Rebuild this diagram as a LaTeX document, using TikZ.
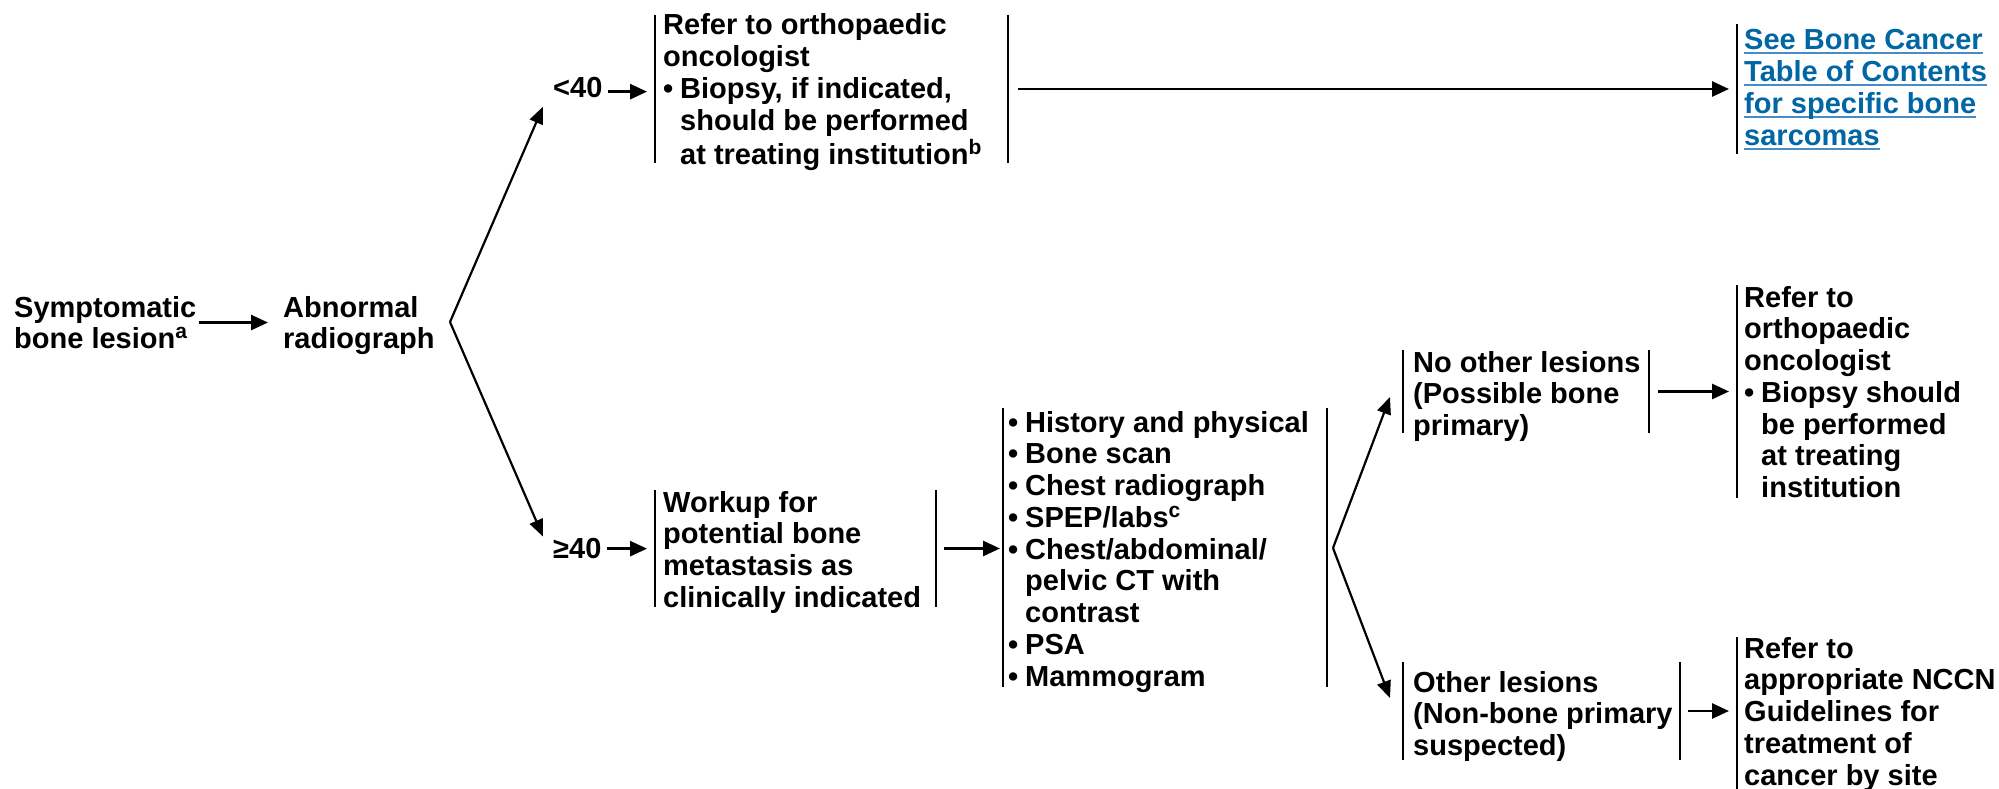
\documentclass[tikz,border=0pt]{standalone}
\usepackage{fontspec}
\setmainfont{Liberation Sans}
\usetikzlibrary{arrows.meta}
\definecolor{linkblue}{RGB}{0,103,164}
\definecolor{ulblue}{RGB}{70,140,200}
\newcommand\myul[1]{\setbox0\hbox{#1}\rlap{\color{ulblue}\rule[-4.5pt]{\wd0}{2pt}}\box0}
\newcommand\bul{\makebox[17pt][l]{•}}
\newcommand\ind{\hspace*{17pt}}
\newcommand\sups[1]{\raisebox{10pt}{\fontsize{21}{21}\selectfont #1}}
\begin{document}
\begin{tikzpicture}[x=1pt,y=-1pt,
  txt/.style={anchor=base west, inner sep=0pt, font=\fontsize{29}{31.75}\selectfont\bfseries},
  linktxt/.style={anchor=base west, inner sep=0pt, text=linkblue, font=\fontsize{29}{32}\selectfont\bfseries},
  frame/.style={draw=none, inner sep=0pt, outer sep=0pt, anchor=north west},
  bar/.style={line width=2.4pt},
  arr/.style={line width=2.8pt, -{Triangle[length=17pt,width=15pt]}},
  diag/.style={line width=2.2pt, -{Triangle[length=17pt,width=14pt]}}]
\fill[white] (0,0) rectangle (1999,789);
\useasboundingbox (0,0) rectangle (1999,789);

% frames (bars)
\node[frame, minimum width=353pt, minimum height=148pt] (topbox) at (655,15) {};
\node[frame, minimum width=262pt, minimum height=130pt] (linkbox) at (1737,24) {};
\node[frame, minimum width=281pt, minimum height=117pt] (workbox) at (655,490) {};
\node[frame, minimum width=324pt, minimum height=279pt] (listbox) at (1003,408) {};
\node[frame, minimum width=246pt, minimum height=83pt] (nobox) at (1403,350) {};
\node[frame, minimum width=262pt, minimum height=213pt] (ref1box) at (1737,285) {};
\node[frame, minimum width=277pt, minimum height=98pt] (othbox) at (1403,662) {};
\node[frame, minimum width=262pt, minimum height=152pt] (ref2box) at (1737,637) {};

\foreach \b in {topbox,workbox,listbox,nobox,othbox}{
  \draw[bar] (\b.north west) -- (\b.south west);
  \draw[bar] (\b.north east) -- (\b.south east);
}
\foreach \b in {linkbox,ref1box,ref2box}{
  \draw[bar] (\b.north west) -- (\b.south west);
}

% texts
\node[txt] (sym) at (14,317) {\begin{tabular}[t]{@{}l@{}}Symptomatic\\bone lesion\sups{a}\end{tabular}};
\node[txt] (abn) at (283,317) {\begin{tabular}[t]{@{}l@{}}Abnormal\\radiograph\end{tabular}};
\node[txt] (lt) at (553,98) {\begin{tabular}[t]{@{}l@{}}<40\end{tabular}};
\node[txt] (ge) at (553,558) {\begin{tabular}[t]{@{}l@{}}≥40\end{tabular}};
\node[txt] (toptext) at (663,35) {\begin{tabular}[t]{@{}l@{}}Refer to orthopaedic\\oncologist\\\bul Biopsy, if indicated,\\\ind should be performed\\\ind at treating institution\sups{b}\end{tabular}};
\node[linktxt] (linktext) at (1744,50) {\begin{tabular}[t]{@{}l@{}}\myul{See Bone Cancer}\\\myul{Table of Contents}\\\myul{for specific bone}\\\myul{sarcomas}\end{tabular}};
\node[txt] (worktext) at (663,512) {\begin{tabular}[t]{@{}l@{}}Workup for\\potential bone\\metastasis as\\clinically indicated\end{tabular}};
\node[txt] (listtext) at (1008,432) {\begin{tabular}[t]{@{}l@{}}\bul History and physical\\\bul Bone scan\\\bul Chest radiograph\\\bul SPEP/labs\sups{c}\\\bul Chest/abdominal/\\\ind pelvic CT with\\\ind contrast\\\bul PSA\\\bul Mammogram\end{tabular}};
\node[txt] (notext) at (1413,372) {\begin{tabular}[t]{@{}l@{}}No other lesions\\(Possible bone\\primary)\end{tabular}};
\node[txt] (ref1text) at (1744,307) {\begin{tabular}[t]{@{}l@{}}Refer to\\orthopaedic\\oncologist\\\bul Biopsy should\\\ind be performed\\\ind at treating\\\ind institution\end{tabular}};
\node[txt] (othtext) at (1413,692) {\begin{tabular}[t]{@{}l@{}}Other lesions\\(Non-bone primary\\suspected)\end{tabular}};
\node[txt] (ref2text) at (1744,658) {\begin{tabular}[t]{@{}l@{}}Refer to\\appropriate NCCN\\Guidelines for\\treatment of\\cancer by site\end{tabular}};

% forks
\coordinate (fork1) at (450,322);
\coordinate (fork2) at (1333,548);

% connectors
\draw[arr, shorten <=2pt, shorten >=15pt] ([yshift=4pt]sym.east) -- ([yshift=4pt]sym.east -| abn.west);
\draw[diag] (fork1) -- ([xshift=-10pt,yshift=1pt]lt.south west);
\draw[diag] (fork1) -- ([xshift=-10pt,yshift=-1pt]ge.north west);
\draw[arr, shorten <=5pt, shorten >=8pt] (lt.east) -- (lt.east -| topbox.west);
\draw[arr, shorten <=10pt, shorten >=8pt] (topbox.east) -- (linkbox.west);
\draw[arr, shorten <=5pt, shorten >=8pt] ([yshift=3pt]ge.east) -- ([yshift=3pt]ge.east -| workbox.west);
\draw[arr, shorten <=8pt, shorten >=3pt] (workbox.east) -- (workbox.east -| listbox.west);
\draw[diag] (fork2) -- ([xshift=-13pt,yshift=-5.5pt]nobox.west);
\draw[diag] (fork2) -- ([xshift=-13pt,yshift=13pt]othbox.west);
\draw[arr, shorten <=9pt, shorten >=8pt] (nobox.east) -- (nobox.east -| ref1box.west);
\draw[arr, shorten <=8pt, shorten >=8pt] (othbox.east) -- (othbox.east -| ref2box.west);
\end{tikzpicture}
\end{document}
